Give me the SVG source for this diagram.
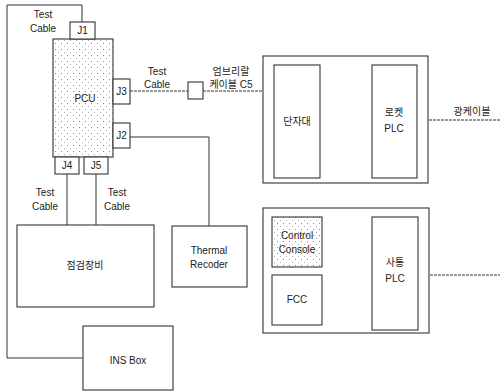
<svg xmlns="http://www.w3.org/2000/svg" width="500" height="392" viewBox="0 0 500 392">
<defs>
<pattern id="dots" width="6" height="6" patternUnits="userSpaceOnUse">
<rect width="6" height="6" fill="#fff"/>
<circle cx="1.5" cy="1.5" r="0.55" fill="#777"/>
<circle cx="4.5" cy="4.5" r="0.5" fill="#999"/>
</pattern>
<style>
.b{fill:#fff;stroke:#333;stroke-width:1.1}
.d{fill:url(#dots);stroke:#333;stroke-width:1.1}
.l{fill:none;stroke:#333;stroke-width:1}
.ld{fill:none;stroke:#333;stroke-width:1;stroke-dasharray:3 1}
text{font-family:"Liberation Sans Narrow","Liberation Sans","Noto Sans CJK KR",sans-serif;font-size:10px;fill:#222;text-anchor:middle}
</style>
</defs>
<rect width="500" height="392" fill="#fff"/>
<g id="connectors">
<polyline class="l" points="82,22 82,5 7,5 7,358 83,358"/>
<line class="ld" x1="130" y1="91" x2="188" y2="91"/>
<line class="ld" x1="203" y1="91" x2="274" y2="91"/>
<polyline class="l" points="130,137 209,137 209,226"/>
<line class="l" x1="67" y1="174" x2="67" y2="225"/>
<line class="l" x1="96" y1="174" x2="96" y2="225"/>
<line class="l" x1="320" y1="119" x2="372" y2="119"/>
<line class="ld" x1="417" y1="120" x2="500" y2="120"/>
<line class="l" x1="322" y1="242" x2="372" y2="242"/>
<line class="l" x1="322" y1="303" x2="372" y2="303"/>
<line class="ld" x1="418" y1="275" x2="500" y2="275"/>
</g>
<g id="labels">
<text x="43" y="18">Test</text><text x="43" y="32">Cable</text>
<text x="157" y="75">Test</text><text x="157" y="88">Cable</text>
<text x="231" y="75">엄브리랄</text><text x="231" y="88">케이블 C5</text>
<text x="45" y="196">Test</text><text x="45" y="210">Cable</text>
<text x="117" y="196">Test</text><text x="117" y="210">Cable</text>
<text x="472" y="115">광케이블</text>
</g>
<g id="pcu"><rect class="d" x="53" y="39" width="60" height="118"/><text x="85" y="102">PCU</text></g>
<g id="j1"><rect class="b" x="70" y="22" width="25" height="17"/><text x="82.5" y="34">J1</text></g>
<g id="j3"><rect class="b" x="113" y="79" width="17" height="25"/><text x="121.5" y="95">J3</text></g>
<g id="j2"><rect class="b" x="113" y="123" width="17" height="25"/><text x="121.5" y="139">J2</text></g>
<g id="j4"><rect class="b" x="55" y="157" width="24" height="17"/><text x="67" y="169">J4</text></g>
<g id="j5"><rect class="b" x="84" y="157" width="24" height="17"/><text x="96" y="169">J5</text></g>
<g id="c5"><rect class="b" x="188" y="82" width="15" height="17"/></g>
<g id="test-equip"><rect class="b" x="17" y="225" width="137" height="82"/><text x="85" y="269">점검장비</text></g>
<g id="thermal"><rect class="b" x="172" y="226" width="75" height="61"/><text x="209" y="254">Thermal</text><text x="209" y="268">Recoder</text></g>
<g id="ins"><rect class="b" x="83" y="326" width="90" height="64"/><text x="128" y="364">INS Box</text></g>
<g id="rocket-sys"><rect class="b" x="263" y="56" width="165" height="127"/></g>
<g id="terminal"><rect class="b" x="274" y="65" width="46" height="113"/><text x="297" y="125">단자대</text></g>
<g id="rocket-plc"><rect class="b" x="372" y="65" width="45" height="113"/><text x="394" y="116">로켓</text><text x="394" y="132">PLC</text></g>
<g id="fire-sys"><rect class="b" x="263" y="208" width="166" height="125"/></g>
<g id="console"><rect class="d" x="272" y="217" width="50" height="50"/><text x="297" y="239">Control</text><text x="297" y="253">Console</text></g>
<g id="fcc"><rect class="b" x="272" y="275" width="50" height="50"/><text x="297" y="303">FCC</text></g>
<g id="fire-plc"><rect class="b" x="372" y="217" width="46" height="113"/><text x="395" y="266">사통</text><text x="395" y="282">PLC</text></g>
</svg>
